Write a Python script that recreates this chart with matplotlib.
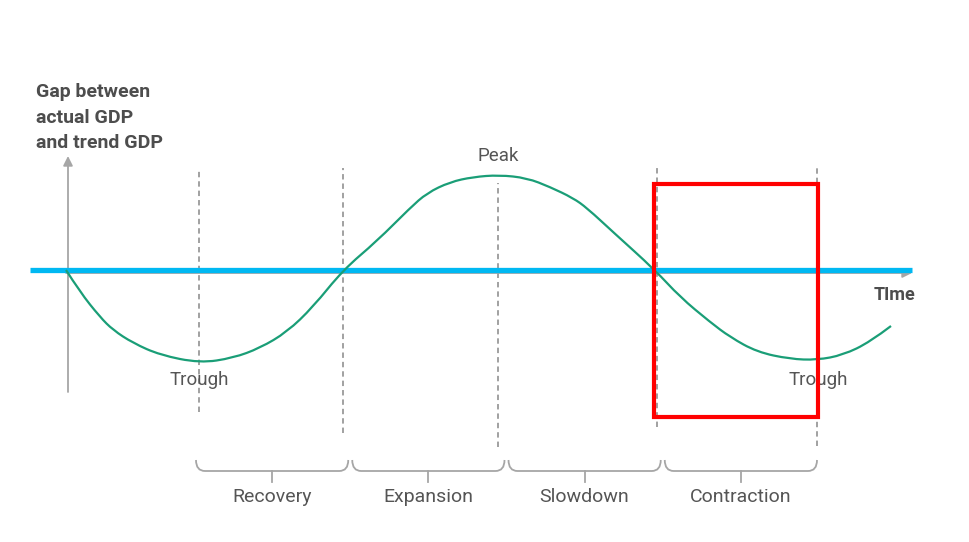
import numpy as np
import matplotlib.pyplot as plt
from matplotlib.path import Path
from matplotlib.patches import PathPatch, Rectangle

# business cycle curve (time units, output gap units)
time = [0, 14, 34, 47, 67, 94, 134, 167, 194, 221, 247, 277,
        311, 344, 361, 384, 407, 433, 461, 484, 507, 521, 547, 589,
        614, 644, 664, 691, 724, 751, 777, 804, 825]
gap = [0, -22, -47, -60, -73, -85, -93, -88, -78, -62, -37, 0,
       29, 62, 77, 88, 93, 95, 92, 83, 72, 62, 38, 0,
       -27, -52, -67, -82, -89, -90, -85, -72, -56]

# turning points / phase boundaries
marks = [133, 277, 432, 591, 751]
mark_top = [102, 102, 87, 102, 102]
mark_bottom = [-142, -163, -177, -157, -176]
phases = ["Recovery", "Expansion", "Slowdown", "Contraction"]
point_labels = [("Trough", 133, -110), ("Peak", 432, 114), ("Trough", 752, -110)]

TXT = "#555555"
GREY = "#a6a6a6"

plt.rcParams["font.family"] = ["Roboto", "DejaVu Sans"]

fig = plt.figure(figsize=(9.69, 5.42), dpi=100)
ax = fig.add_axes([0, 0, 1, 1])
ax.set_xlim(-66, 903)
ax.set_ylim(-272, 270)
ax.axis("off")

# axes arrows
ax.annotate("", xy=(2, 114), xytext=(2, -122),
            arrowprops=dict(arrowstyle="-|>", color=GREY, lw=1.3,
                            mutation_scale=14, shrinkA=0, shrinkB=0))
ax.annotate("", xy=(846, -3), xytext=(0, -3),
            arrowprops=dict(arrowstyle="-|>", color=GREY, lw=1.3,
                            mutation_scale=14, shrinkA=0, shrinkB=0))

# dashed guide lines
for t, top, bot in zip(marks, mark_top, mark_bottom):
    ax.plot([t, t], [bot, top], color="#9a9a9a", lw=1.3,
            ls=(0, (3, 2.2)), zorder=2)

# trend line (zero gap)
ax.plot([-36, 846], [0.5, 0.5], color="#00B8F2", lw=3.8, zorder=3,
        solid_capstyle="butt")

# actual GDP curve, smoothed with quadratic segments through the read points
pts = np.column_stack([time, gap]).astype(float)
mids = (pts[1:-1] + pts[2:]) / 2
verts = [pts[0]]
codes = [Path.MOVETO]
for i in range(1, len(pts) - 1):
    end = mids[i - 1] if i < len(pts) - 2 else pts[-1]
    verts += [pts[i], end]
    codes += [Path.CURVE3, Path.CURVE3]
ax.add_patch(PathPatch(Path(verts, codes), fill=False, edgecolor="#1a9e77",
                       lw=1.6, zorder=4))

# highlight box
ax.add_patch(Rectangle((588, -147), 164, 233, fill=False,
                       edgecolor="#ff0000", lw=3.0, zorder=5))

# labels
for txt, x, y in point_labels:
    ax.text(x, y, txt, ha="center", va="center", fontsize=13.5, color=TXT)
ax.text(829, -25, "TIme", ha="center", va="center", fontsize=13,
        fontweight="bold", color="#4d4d4d")
ax.text(-30, 187, "Gap between\nactual GDP\nand trend GDP", ha="left",
        va="top", fontsize=14, fontweight="bold", color="#4d4d4d",
        linespacing=1.55)

# phase brackets, evenly spread from first to last turning point
start, stop = marks[0] - 5, marks[-1] + 2
width = (stop - start) / len(phases)
for i, name in enumerate(phases):
    x0 = start + i * width + 2
    x1 = start + (i + 1) * width - 2
    xm = (x0 + x1) / 2
    y_top, y_mid, y_tick = -190, -201, -212
    verts = [(x0, y_top), (x0, y_mid), (x0 + 9, y_mid),
             (x1 - 9, y_mid), (x1, y_mid), (x1, y_top)]
    codes = [Path.MOVETO, Path.CURVE3, Path.CURVE3,
             Path.LINETO, Path.CURVE3, Path.CURVE3]
    ax.add_patch(PathPatch(Path(verts, codes), fill=False,
                           edgecolor=GREY, lw=1.3))
    ax.plot([xm, xm], [y_mid, y_tick], color=GREY, lw=1.3)
    ax.text(xm, -227, name, ha="center", va="center", fontsize=14,
            color=TXT)

fig.savefig("out.png", dpi=100)
